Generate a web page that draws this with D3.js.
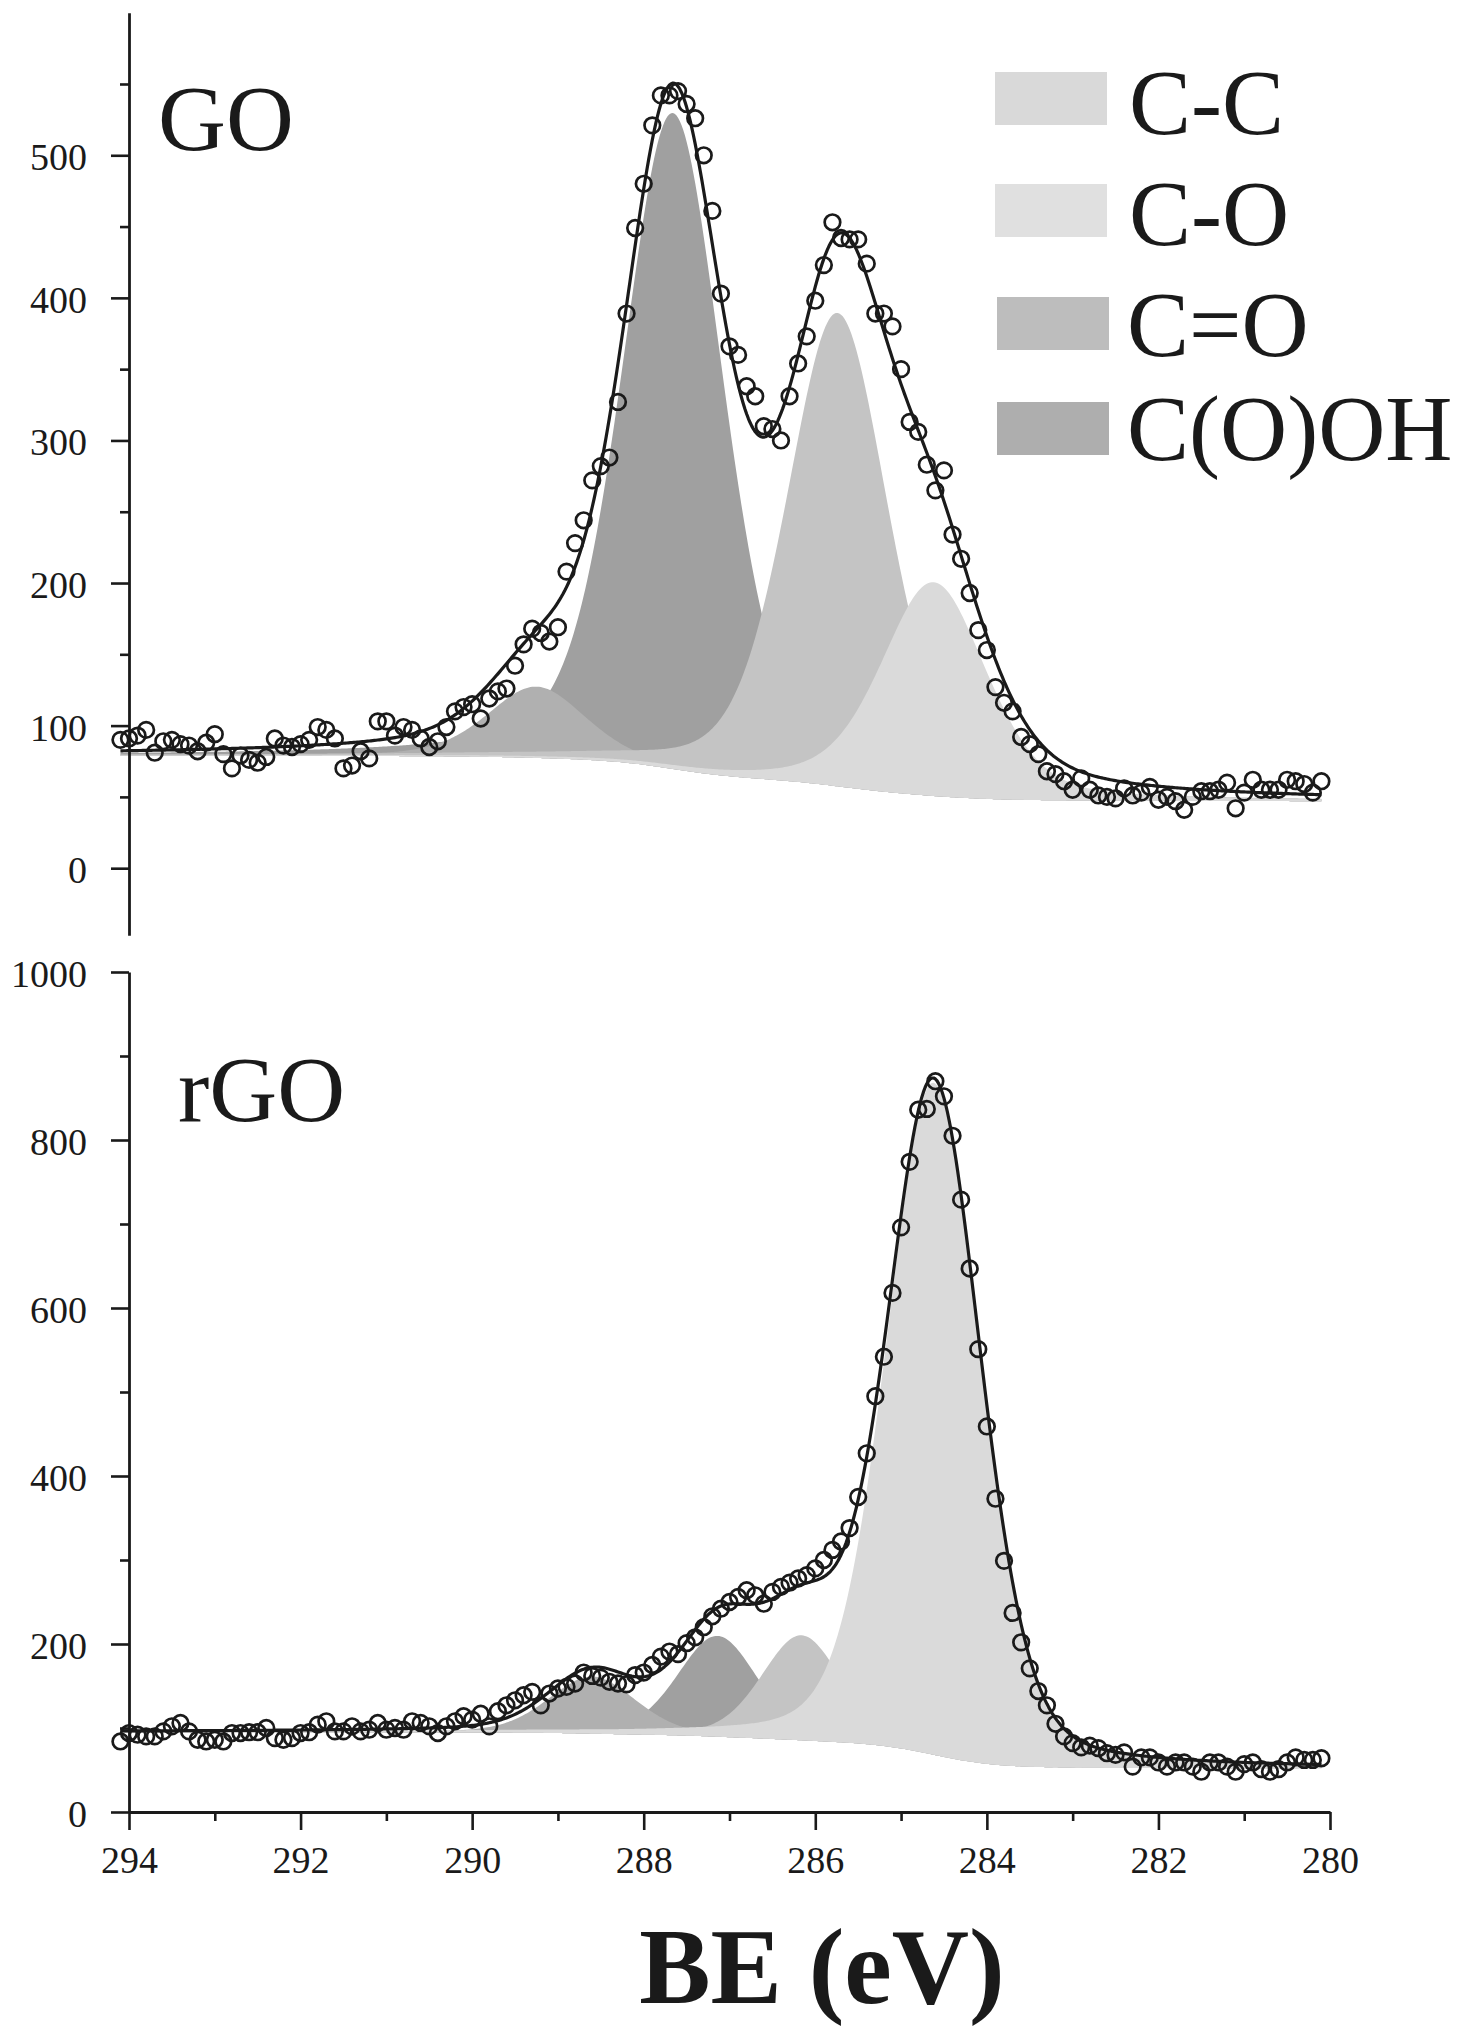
<!DOCTYPE html>
<html>
<head>
<meta charset="utf-8">
<script src="https://cdn.jsdelivr.net/npm/d3@7"></script>
<style>
  html, body { margin: 0; padding: 0; background: #ffffff; }
  svg { display: block; }
  text { font-family: "Liberation Serif", "Times New Roman", Times, serif; fill: #1a1a1a; }
  .axis { color: #1a1a1a; }
  .axis .domain { stroke-width: 2.8px; }
  .axis .tick line { stroke-width: 2.6px; }
  .axis .tick text { font-size: 38px; font-family: "Liberation Serif", "Times New Roman", Times, serif; }
</style>
</head>
<body>
<svg id="chart" width="1466" height="2028"></svg>
<script>
// ---- C 1s scans: channel grid (binding energy, eV, high to low) ----
const scanStart = 294.1;
const scanStep = 0.1;

// Measured intensities, GO (one value per channel from 294.1 eV down to 280.1 eV)
const goCounts = [
  90, 91, 93, 97, 81, 89, 90, 87, 86, 82,
  88, 94, 80, 70, 79, 76, 74, 78, 91, 86,
  85, 87, 90, 99, 97, 91, 70, 72, 82, 77,
  103, 103, 93, 99, 97, 91, 85, 89, 99, 110,
  113, 115, 105, 119, 124, 126, 142, 157, 168, 165,
  159, 169, 208, 228, 244, 272, 282, 288, 327, 389,
  449, 480, 521, 542, 542, 545, 536, 526, 500, 461,
  403, 366, 360, 338, 331, 310, 308, 300, 331, 354,
  373, 398, 423, 453, 442, 441, 441, 424, 389, 389,
  380, 350, 313, 306, 283, 265, 279, 234, 217, 193,
  167, 153, 127, 116, 110, 92, 87, 80, 68, 66,
  61, 55, 63, 55, 51, 50, 49, 56, 51, 53,
  57, 48, 50, 47, 41, 50, 54, 54, 55, 60,
  42, 53, 62, 55, 55, 55, 62, 61, 59, 53,
  61
];

// Measured intensities, rGO
const rgoCounts = [
  84, 94, 92, 90, 90, 96, 102, 106, 96, 86,
  84, 86, 84, 94, 94, 95, 95, 100, 88, 86,
  88, 94, 95, 104, 108, 96, 96, 102, 96, 98,
  106, 98, 100, 98, 108, 106, 102, 94, 102, 108,
  114, 110, 117, 102, 120, 127, 133, 139, 143, 127,
  141, 147, 149, 153, 166, 162, 160, 155, 153, 152,
  163, 166, 175, 185, 191, 188, 201, 208, 220, 233,
  242, 250, 256, 264, 258, 248, 262, 268, 273, 278,
  282, 290, 300, 312, 322, 338, 375, 427, 495, 542,
  618, 696, 774, 836, 837, 870, 852, 805, 729, 647,
  551, 459, 373, 299, 237, 202, 171, 144, 127, 105,
  90, 82, 77, 79, 76, 70, 68, 71, 54, 65,
  65, 59, 54, 59, 59, 54, 48, 59, 59, 54,
  48, 57, 59, 51, 48, 51, 59, 65, 62, 62,
  64
];

// ---- Fitted components (order follows componentNames) ----
const componentNames = ["C-C", "C-O", "C=O", "C(O)OH"];
const legendColors = ["#d9d9d9", "#e0e0e0", "#bdbdbd", "#aeaeae"];
const fillColors = ["#dadada", "#c4c4c4", "#a0a0a0", "#b0b0b0"];
const drawOrder = [2, 3, 1, 0];   // C=O underneath, C-C on top

const goCenters = [284.62, 285.74, 287.66, 289.25];
const goHeights = [150, 332, 460, 50];
const goFwhm = [1.45, 1.40, 1.40, 1.35];
const goMix = 0.35;                 // Lorentzian share of the line shape
const goBackground = [47, 79];      // Shirley levels: low-BE end, high-BE end

const rgoCenters = [284.62, 286.16, 287.14, 288.60];
const rgoHeights = [800, 125, 120, 68];
const rgoFwhm = [1.30, 1.10, 1.10, 1.20];
const rgoMix = 0.25;
const rgoBackground = [52, 95];

// ---- Axis ticks ----
const xTicksMajor = [294, 292, 290, 288, 286, 284, 282, 280];
const xTicksMinor = [293, 291, 289, 287, 285, 283, 281];
const goTicksMajor = [0, 100, 200, 300, 400, 500];
const goTicksMinor = [50, 150, 250, 350, 450, 550];
const rgoTicksMajor = [0, 200, 400, 600, 800, 1000];
const rgoTicksMinor = [100, 300, 500, 700, 900];

// ---- Scales ----
const svg = d3.select("#chart");
const x = d3.scaleLinear().domain([294, 280]).range([129, 1330]);
const yGO = d3.scaleLinear().domain([-47, 600]).range([935.2, 12.7]);
const yRGO = d3.scaleLinear().domain([0, 1000]).range([1812, 972]);

function lineShape(e, c, h, w, mix) {
  const t = 4 * (e - c) * (e - c) / (w * w);
  return h * ((1 - mix) * Math.exp(-Math.LN2 * t) + mix / (1 + t));
}

// Model curves sampled finely across the scan window, with a Shirley background
function buildFit(centers, heights, fwhm, mix, background, eLow, eHigh) {
  const rows = [];
  const n = Math.round((eHigh - eLow) / 0.02);
  for (let i = 0; i <= n; i++) {
    const e = eLow + (eHigh - eLow) * i / n;
    const comps = centers.map((c, k) => lineShape(e, c, heights[k], fwhm[k], mix));
    rows.push({ be: e, comps, sum: d3.sum(comps) });
  }
  let cum = 0;
  rows[0].cum = 0;
  for (let i = 1; i < rows.length; i++) {
    cum += 0.5 * (rows[i].sum + rows[i - 1].sum) * (rows[i].be - rows[i - 1].be);
    rows[i].cum = cum;
  }
  rows.forEach(r => {
    r.base = background[0] + (background[1] - background[0]) * r.cum / cum;
    r.env = r.base + r.sum;
  });
  return rows;
}

function drawPanel(counts, centers, heights, fwhm, mix, background, y) {
  const points = counts.map((v, i) => ({ be: scanStart - i * scanStep, v }));
  const eLow = points[points.length - 1].be;
  const fit = buildFit(centers, heights, fwhm, mix, background, eLow, scanStart);
  const g = svg.append("g");

  drawOrder.forEach(k => {
    const area = d3.area()
      .x(d => x(d.be))
      .y0(d => y(d.base))
      .y1(d => y(d.base + d.comps[k]));
    g.append("path").datum(fit)
      .attr("d", area)
      .attr("fill", fillColors[k]);
  });

  const envelope = d3.line().x(d => x(d.be)).y(d => y(d.env));
  g.append("path").datum(fit)
    .attr("d", envelope)
    .attr("fill", "none")
    .attr("stroke", "#1a1a1a")
    .attr("stroke-width", 3.2)
    .attr("stroke-linejoin", "round");

  g.selectAll("circle.pt").data(points).join("circle")
    .attr("class", "pt")
    .attr("cx", d => x(d.be))
    .attr("cy", d => y(d.v))
    .attr("r", 7.8)
    .attr("fill", "none")
    .attr("stroke", "#1a1a1a")
    .attr("stroke-width", 2.7);
}

function drawYAxis(y, major, minor) {
  svg.append("g").attr("class", "axis")
    .attr("transform", `translate(${x(294)},0)`)
    .call(d3.axisLeft(y).tickValues(minor).tickSize(9).tickSizeOuter(0).tickFormat(""))
    .call(a => a.select(".domain").remove());
  svg.append("g").attr("class", "axis")
    .attr("transform", `translate(${x(294)},0)`)
    .attr("font-family", null)
    .call(d3.axisLeft(y).tickValues(major).tickSize(18).tickSizeOuter(0)
      .tickPadding(24).tickFormat(d3.format("d")))
    .call(a => a.selectAll(".tick text").attr("dy", "0.38em"));
}

// ---- Panels ----
drawPanel(goCounts, goCenters, goHeights, goFwhm, goMix, goBackground, yGO);
drawPanel(rgoCounts, rgoCenters, rgoHeights, rgoFwhm, rgoMix, rgoBackground, yRGO);

drawYAxis(yGO, goTicksMajor, goTicksMinor);
drawYAxis(yRGO, rgoTicksMajor, rgoTicksMinor);

// shared energy axis under the rGO panel
svg.append("g").attr("class", "axis")
  .attr("transform", `translate(0,${yRGO(0)})`)
  .call(d3.axisBottom(x).tickValues(xTicksMinor).tickSize(9).tickSizeOuter(0).tickFormat(""))
  .call(a => a.select(".domain").remove());
svg.append("g").attr("class", "axis")
  .attr("transform", `translate(0,${yRGO(0)})`)
  .call(d3.axisBottom(x).tickValues(xTicksMajor).tickSize(18).tickSizeOuter(0).tickFormat(d3.format("d")))
  .call(a => a.selectAll(".tick text").attr("y", 61).attr("dy", 0));

// ---- Panel labels ----
svg.append("text").attr("x", 158).attr("y", 150).attr("font-size", 94).text("GO");
svg.append("text").attr("x", 178).attr("y", 1121).attr("font-size", 94).text("rGO");

// ---- Legend ----
const legendRows = [
  { x: 995, y: 72, ty: 134, tx: 1129 },
  { x: 995, y: 184, ty: 245, tx: 1129 },
  { x: 997, y: 297, ty: 356, tx: 1127 },
  { x: 997, y: 402, ty: 460, tx: 1127 }
];
const legend = svg.append("g");
componentNames.forEach((name, k) => {
  const r = legendRows[k];
  legend.append("rect").attr("x", r.x).attr("y", r.y).attr("width", 112).attr("height", 53)
    .attr("fill", legendColors[k]);
  legend.append("text").attr("x", r.tx).attr("y", r.ty).attr("font-size", 93).text(name);
});

// ---- Energy axis title ----
svg.append("text")
  .attr("x", 822).attr("y", 2003)
  .attr("text-anchor", "middle")
  .attr("font-size", 107)
  .attr("font-weight", "bold")
  .text("BE (eV)");
</script>
</body>
</html>
